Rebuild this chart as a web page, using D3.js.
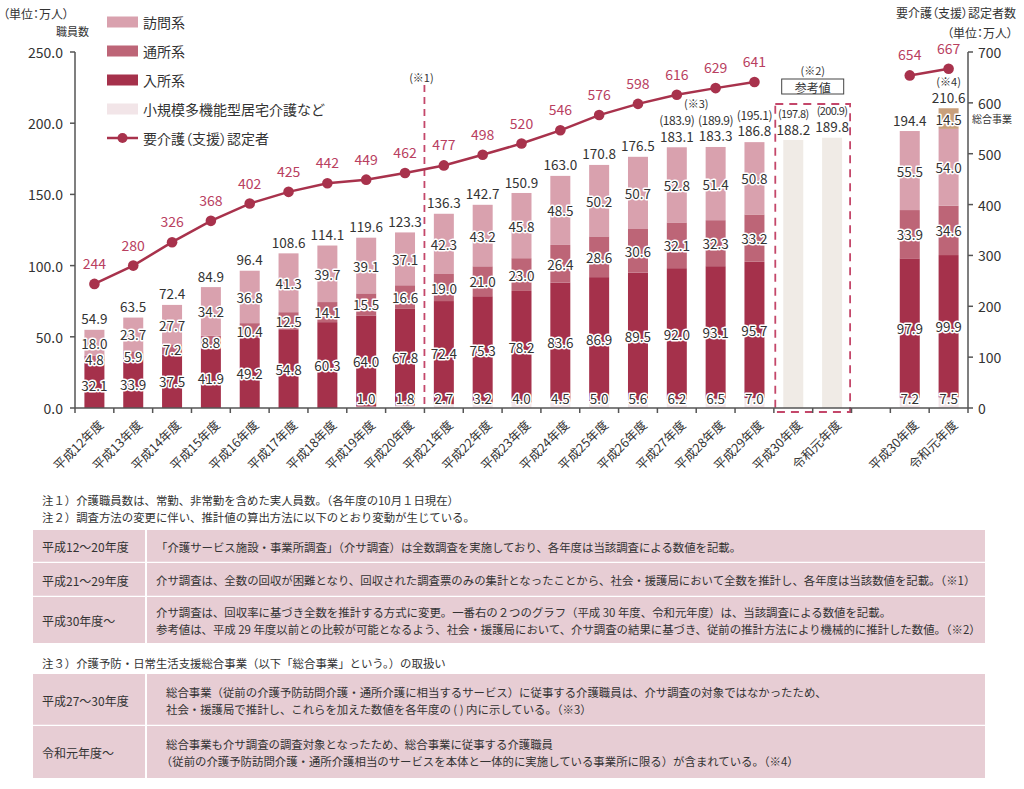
<!DOCTYPE html>
<html><head><meta charset="utf-8">
<script src="https://cdn.jsdelivr.net/npm/d3@7"></script>
<style>
html,body{margin:0;padding:0;background:#fff;}
svg{display:block;font-family:"Noto Sans CJK JP","Noto Sans",sans-serif;}
.palt{font-feature-settings:"palt" 1;}
</style></head>
<body><svg id="c" width="1024" height="789"></svg>
<script>
// ---------------- data ----------------
const categories = ["平成12年度","平成13年度","平成14年度","平成15年度","平成16年度","平成17年度","平成18年度","平成19年度","平成20年度","平成21年度","平成22年度","平成23年度","平成24年度","平成25年度","平成26年度","平成27年度","平成28年度","平成29年度"];
const smallScale = [0,0,0,0,0,0,0,1.0,1.8,2.7,3.2,4.0,4.5,5.0,5.6,6.2,6.5,7.0];
const nyusho = [32.1,33.9,37.5,41.9,49.2,54.8,60.3,64.0,67.8,72.4,75.3,78.2,83.6,86.9,89.5,92.0,93.1,95.7];
const tsusho = [4.8,5.9,7.2,8.8,10.4,12.5,14.1,15.5,16.6,19.0,21.0,23.0,26.4,28.6,30.6,32.1,32.3,33.2];
const homon = [18.0,23.7,27.7,34.2,36.8,41.3,39.7,39.1,37.1,42.3,43.2,45.8,48.5,50.2,50.7,52.8,51.4,50.8];
const totals = [54.9,63.5,72.4,84.9,96.4,108.6,114.1,119.6,123.3,136.3,142.7,150.9,163.0,170.8,176.5,183.1,183.3,186.8];
const totalsWithSogo = [null,null,null,null,null,null,null,null,null,null,null,null,null,null,null,183.9,189.9,195.1];
const ninteisha = [244,280,326,368,402,425,442,449,462,477,498,520,546,576,598,616,629,641];

const refCategories = ["平成30年度","令和元年度"];
const refTotals = [188.2,189.8];
const refTotalsWithSogo = [197.8,200.9];

const newCategories = ["平成30年度","令和元年度"];
const newSmall = [7.2,7.5];
const newNyusho = [97.9,99.9];
const newTsusho = [33.9,34.6];
const newHomon = [55.5,54.0];
const newSogo = [0,14.5];
const newTotals = [194.4,210.6];
const newNinteisha = [654,667];

const leftTicks = [0,50,100,150,200,250];
const rightTicks = [0,100,200,300,400,500,600,700];

const notes1 = ["注１）介護職員数は、常勤、非常勤を含めた実人員数。（各年度の10月１日現在）",
                "注２）調査方法の変更に伴い、推計値の算出方法に以下のとおり変動が生じている。"];
const table1 = [
  ["平成12～20年度", ["「介護サービス施設・事業所調査」（介サ調査）は全数調査を実施しており、各年度は当該調査による数値を記載。"]],
  ["平成21～29年度", ["介サ調査は、全数の回収が困難となり、回収された調査票のみの集計となったことから、社会・援護局において全数を推計し、各年度は当該数値を記載。（※1）"]],
  ["平成30年度～", ["介サ調査は、回収率に基づき全数を推計する方式に変更。一番右の２つのグラフ（平成 30 年度、令和元年度）は、当該調査による数値を記載。",
                   "参考値は、平成 29 年度以前との比較が可能となるよう、社会・援護局において、介サ調査の結果に基づき、従前の推計方法により機械的に推計した数値。（※2）"]]
];
const notes3 = "注３）介護予防・日常生活支援総合事業（以下「総合事業」という。）の取扱い";
const table2 = [
  ["平成27～30年度", ["総合事業（従前の介護予防訪問介護・通所介護に相当するサービス）に従事する介護職員は、介サ調査の対象ではなかったため、",
                     "社会・援護局で推計し、これらを加えた数値を各年度の ( ) 内に示している。（※3）"]],
  ["令和元年度～", ["総合事業も介サ調査の調査対象となったため、総合事業に従事する介護職員",
                   "（従前の介護予防訪問介護・通所介護相当のサービスを本体と一体的に実施している事業所に限る）が含まれている。（※4）"]]
];

const seriesNames = ["訪問系","通所系","入所系","小規模多機能型居宅介護など"];
const lineName = "要介護（支援）認定者";

// ---------------- styles ----------------
const C = {homon:"#d9a1ae", tsusho:"#bd6577", nyusho:"#a5314b", small:"#f2e5e8", sogo:"#c8a07c",
           ref:"#f0ebe6", line:"#a8324c", lineText:"#b9405f", text:"#333", axis:"#555", dash:"#c4476a", table:"#e7cdd4"};

const svg = d3.select("#c");
svg.append("rect").attr("width",1024).attr("height",789).attr("fill","#fff");

const L = 75, R = 968, T = 52, B = 408;
const keys = [...categories.map(c=>"a:"+c), ...refCategories.map(c=>"r:"+c), "gap", ...newCategories.map(c=>"n:"+c)];
const x = d3.scaleBand().domain(keys).range([L,R]).paddingInner(0.485).paddingOuter(0.2425);
const yL = d3.scaleLinear().domain([0,250]).range([B,T]);
const yR = d3.scaleLinear().domain([0,700]).range([B,T]);
const bw = x.bandwidth();
const cx = k => x(k) + bw/2;

// build stacked segments
const segs = [];
categories.forEach((c,i)=>{
  const k = "a:"+c;
  const parts = [["small",smallScale[i]],["nyusho",nyusho[i]],["tsusho",tsusho[i]],["homon",homon[i]]];
  let acc = 0;
  parts.forEach(([s,v])=>{ segs.push({k,s,v,y0:acc,y1:acc+v}); acc+=v; });
});
newCategories.forEach((c,i)=>{
  const k = "n:"+c;
  const parts = [["small",newSmall[i]],["nyusho",newNyusho[i]],["tsusho",newTsusho[i]],["homon",newHomon[i]],["sogo",newSogo[i]]];
  let acc = 0;
  parts.forEach(([s,v])=>{ segs.push({k,s,v,y0:acc,y1:acc+v}); acc+=v; });
});

const g = svg.append("g");
g.selectAll("rect.seg").data(segs.filter(d=>d.v>0)).join("rect")
  .attr("x",d=>x(d.k)).attr("width",bw)
  .attr("y",d=>yL(d.y1)).attr("height",d=>yL(d.y0)-yL(d.y1))
  .attr("fill",d=>C[d.s]);

// reference bars
g.selectAll("rect.ref").data(refCategories).join("rect")
  .attr("x",c=>x("r:"+c)).attr("width",bw)
  .attr("y",(c,i)=>yL(refTotals[i])).attr("height",(c,i)=>B-yL(refTotals[i]))
  .attr("fill",C.ref);

// segment labels
const halo = sel => sel.attr("stroke","#fff").attr("stroke-width",3).attr("paint-order","stroke").attr("stroke-linejoin","round");
g.selectAll("text.seg").data(segs.filter(d=>d.v>0)).join("text")
  .attr("x",d=>cx(d.k))
  .attr("y",d=> d.s==="small" ? 398 : yL((d.y0+d.y1)/2))
  .attr("text-anchor","middle").attr("dominant-baseline","central")
  .attr("font-size",13.5).attr("fill",C.text)
  .text(d=>d.v.toFixed(1)).call(halo);

// totals
const totalData = [
  ...categories.map((c,i)=>({k:"a:"+c, v:totals[i], p:totalsWithSogo[i]})),
  ...refCategories.map((c,i)=>({k:"r:"+c, v:refTotals[i], p:refTotalsWithSogo[i], ref:true})),
  ...newCategories.map((c,i)=>({k:"n:"+c, v:newTotals[i], p:null}))
];
g.selectAll("text.tot").data(totalData).join("text")
  .attr("x",d=>cx(d.k)).attr("y",d=>yL(d.v)-11.5)
  .attr("text-anchor","middle").attr("dominant-baseline","central")
  .attr("font-size",13.5).attr("fill",C.text).text(d=>d.v.toFixed(1));
g.selectAll("text.par").data(totalData.filter(d=>d.p!=null)).join("text")
  .attr("x",d=>cx(d.k)).attr("y",d=>yL(d.v)-27.5)
  .attr("text-anchor","middle").attr("dominant-baseline","central")
  .attr("font-size",d=>d.ref?11:12).attr("fill",C.text)
  .attr("letter-spacing",d=>d.ref?-0.6:-0.4)
  .text(d=>"("+d.p.toFixed(1)+")");

// annotations
const ann = (t,xx,yy,fs,anchor)=> svg.append("text").attr("x",xx).attr("y",yy).attr("font-size",fs||11)
   .attr("fill",C.text).attr("text-anchor",anchor||"middle").attr("dominant-baseline","central").text(t);
const k27 = "a:平成27年度", k28 = "a:平成28年度";
ann("(※3)", (cx(k27)+cx(k28))/2, 103, 11);
const boundary = x("a:平成21年度") - x.step()*x.paddingInner()/2;
svg.append("line").attr("x1",boundary).attr("x2",boundary).attr("y1",85).attr("y2",B)
  .attr("stroke",C.dash).attr("stroke-width",1.8).attr("stroke-dasharray","7,5");
ann("(※1)", boundary-3, 77, 11);

// dashed box around reference bars
const rx0 = x("r:"+refCategories[0]) - 8, rx1 = x("r:"+refCategories[1]) + bw + 8;
svg.append("rect").attr("x",rx0).attr("y",104).attr("width",rx1-rx0).attr("height",412-104)
  .attr("fill","none").attr("stroke",C.dash).attr("stroke-width",1.8).attr("stroke-dasharray","8,6");
const rcx = (rx0+rx1)/2;
svg.append("rect").attr("x",rcx-31).attr("y",79).attr("width",62).attr("height",15)
  .attr("fill","#fff").attr("stroke","#444").attr("stroke-width",1);
ann("参考値", rcx, 87, 12);
ann("(※2)", rcx, 70, 11);

// line series
const pts = categories.map((c,i)=>({x:cx("a:"+c), y:yR(ninteisha[i]), v:ninteisha[i]}));
const pts2 = newCategories.map((c,i)=>({x:cx("n:"+c), y:yR(newNinteisha[i]), v:newNinteisha[i]}));
const lineGen = d3.line().x(d=>d.x).y(d=>d.y);
[pts,pts2].forEach(p=>{
  svg.append("path").attr("d",lineGen(p)).attr("fill","none").attr("stroke",C.line).attr("stroke-width",2.5);
  svg.selectAll(null).data(p).join("circle").attr("cx",d=>d.x).attr("cy",d=>d.y).attr("r",5.3).attr("fill",C.line);
  svg.selectAll(null).data(p).join("text").attr("x",d=>d.x).attr("y",d=>d.y-21)
    .attr("text-anchor","middle").attr("dominant-baseline","central").attr("font-size",14)
    .attr("fill",C.lineText).text(d=>d.v);
});
ann("(※4)", cx("n:令和元年度"), 81, 11);

// axes
const ax = svg.append("g").attr("stroke",C.axis).attr("stroke-width",1.5);
ax.append("line").attr("x1",L).attr("x2",L).attr("y1",T).attr("y2",B);
ax.append("line").attr("x1",R).attr("x2",R).attr("y1",T).attr("y2",B);
ax.append("line").attr("x1",L).attr("x2",R).attr("y1",B).attr("y2",B);
ax.selectAll(null).data(leftTicks).join("line").attr("x1",L-5).attr("x2",L).attr("y1",d=>yL(d)).attr("y2",d=>yL(d));
ax.selectAll(null).data(rightTicks).join("line").attr("x1",R).attr("x2",R+5).attr("y1",d=>yR(d)).attr("y2",d=>yR(d));
const bounds = keys.map(k=>x(k)-x.step()*x.paddingInner()/2).concat([R]);
ax.selectAll(null).data(bounds).join("line").attr("x1",d=>d).attr("x2",d=>d).attr("y1",B).attr("y2",B+5);

svg.selectAll("text.lt").data(leftTicks).join("text").attr("x",63).attr("y",d=>yL(d))
  .attr("text-anchor","end").attr("dominant-baseline","central").attr("font-size",14).attr("fill",C.text)
  .text(d=>d.toFixed(1));
svg.selectAll("text.rt").data(rightTicks).join("text").attr("x",978).attr("y",d=>yR(d))
  .attr("text-anchor","start").attr("dominant-baseline","central").attr("font-size",14).attr("fill",C.text)
  .text(d=>d);

// x labels
const xlabels = [...categories.map(c=>["a:"+c,c]), ...refCategories.map(c=>["r:"+c,c]), ...newCategories.map(c=>["n:"+c,c])];
svg.selectAll("text.xl").data(xlabels).join("text")
  .attr("transform",d=>`translate(${cx(d[0])+6},${B+14}) rotate(-45)`)
  .attr("text-anchor","end").attr("dominant-baseline","central").attr("font-size",12.5).attr("fill",C.text)
  .text(d=>d[1]);

// axis titles
ann("（単位：万人）", 3, 13, 12, "start").attr("class","palt");
ann("職員数", 56, 31, 11, "start");
ann("要介護（支援）認定者数", 1016, 12, 12, "end").attr("class","palt");
ann("（単位：万人）", 1013, 32, 12, "end").attr("class","palt");
ann("総合事業", 972, 118, 10, "start");

// legend
const legItems = [[seriesNames[0],C.homon],[seriesNames[1],C.tsusho],[seriesNames[2],C.nyusho],[seriesNames[3],C.small]];
legItems.forEach((d,i)=>{
  const yy = 22 + i*29;
  svg.append("rect").attr("x",107).attr("y",yy-5.5).attr("width",31).attr("height",11).attr("fill",d[1]);
  ann(d[0],143,yy,14,"start");
});
svg.append("line").attr("x1",107).attr("x2",138).attr("y1",138).attr("y2",138).attr("stroke",C.line).attr("stroke-width",2.5);
svg.append("circle").attr("cx",122.5).attr("cy",138).attr("r",5).attr("fill",C.line);
ann(lineName,143,138,14,"start").attr("class","palt");

// notes & tables
const fsN = 11.4;
notes1.forEach((t,i)=>ann(t,42,500+i*17,fsN,"start"));
function drawTable(rows, top, heights, bodyX){
  let yy = top;
  rows.forEach((r,i)=>{
    const h = heights[i];
    svg.append("rect").attr("x",33).attr("y",yy).attr("width",985-33).attr("height",h).attr("fill",C.table);
    svg.append("line").attr("x1",146).attr("x2",146).attr("y1",yy).attr("y2",yy+h).attr("stroke","#fff").attr("stroke-width",2);
    ann(r[0],42,yy+h/2,12,"start");
    const n = r[1].length;
    r[1].forEach((t,j)=>{
      const off = t.startsWith("（") ? fsN*0.45 : 0;
      ann(t,bodyX-off,yy+h/2+(j-(n-1)/2)*17,fsN,"start");
    });
    yy += h;
    if(i<rows.length-1){ svg.append("line").attr("x1",33).attr("x2",985).attr("y1",yy).attr("y2",yy).attr("stroke","#fff").attr("stroke-width",2.5); }
  });
}
drawTable(table1, 530, [33,34,46], 156);
ann(notes3,42,663,fsN,"start");
drawTable(table2, 674, [52,52], 166);
</script></body></html>
